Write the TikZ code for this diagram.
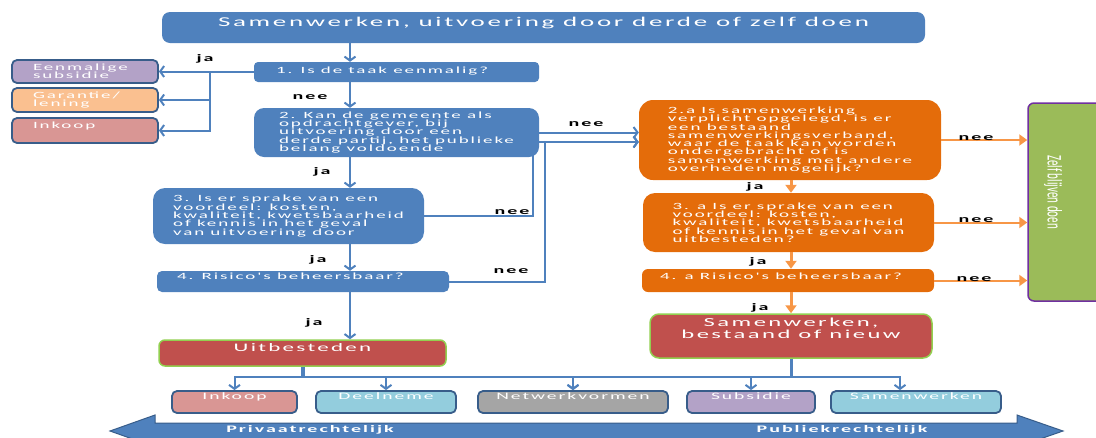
\documentclass[tikz,border=0pt]{standalone}
\usepackage{fontspec}
\usepackage{graphicx}
\setmainfont{Carlito}
\newfontfamily\slidefont[LetterSpace=10]{Carlito}
\newfontfamily\uprightfont{Carlito}
\usetikzlibrary{arrows.meta}

\definecolor{ublue}{HTML}{4F81BD}
\definecolor{udarkblue}{HTML}{385D8A}
\definecolor{uorange}{HTML}{E46C0A}
\definecolor{ulightorange}{HTML}{F79646}
\definecolor{ured}{HTML}{C0504D}
\definecolor{ugreen}{HTML}{9BBB59}
\definecolor{ulimegreen}{HTML}{92D050}
\definecolor{upurple}{HTML}{7030A0}
\definecolor{ulilac}{HTML}{B3A2C7}
\definecolor{upeach}{HTML}{FAC090}
\definecolor{upink}{HTML}{D99694}
\definecolor{ucyan}{HTML}{93CDDD}
\definecolor{ugray}{HTML}{A5A5A5}

% the slide text is stretched sideways
\newcommand{\wtext}[1]{\scalebox{2}[1]{#1}}
\newcommand{\wleft}[2]{\makebox[#1][l]{\wtext{#2}}}

\newcommand{\diagboxfont}{\slidefont\fontsize{9.5}{8.3}\selectfont\lineskiplimit=-20pt}
\newcommand{\diagoptfont}{\slidefont\fontsize{9.8}{10}\selectfont}
\newcommand{\diaglabelfont}{\slidefont\bfseries\fontsize{10}{10}\selectfont}
\newcommand{\diagtitlefont}{\slidefont\fontsize{13.5}{15}\selectfont}
\newcommand{\diagbigfont}{\slidefont\fontsize{11.5}{10}\selectfont\lineskiplimit=-20pt}
\newcommand{\diagswfont}{\slidefont\fontsize{12.3}{11.5}\selectfont\lineskiplimit=-20pt}

\begin{document}
\begin{tikzpicture}[x=1pt, y=-1pt,
    every node/.style={inner sep=0pt, text=white},
    bluebox/.style={fill=ublue, rounded corners=#1, font=\diagboxfont, align=left},
    bluebox/.default=8pt,
    orangebox/.style={fill=uorange, rounded corners=#1, font=\diagboxfont, align=left},
    orangebox/.default=8pt,
    endbox/.style={fill=ured, draw=ulimegreen, line width=1.5pt, rounded corners=#1, align=center},
    choice/.style={fill=#1, draw=udarkblue, line width=1.8pt, rounded corners=5pt, font=\diagboxfont},
    lift/.style={text height=7pt, text depth=#1},
    yesno/.style={text=black, font=\diaglabelfont},
    link/.style={draw=ublue, line width=2pt, -{Straight Barb[length=4pt, width=11pt]}},
    olink/.style={draw=ulightorange, line width=#1, -{Triangle[length=8pt, width=11pt]}},
    olink/.default=2.5pt]

    \useasboundingbox (0,0) rectangle (1096,437);
    \clip (0,0) rectangle (1096,437);

    % Bottom arrow: private to public law
    \filldraw[fill=ublue, draw=udarkblue, line width=1pt] (110,431) -- (155,415) -- (155,423) -- (1017,423) -- (1017,415)
        -- (1063,431) -- (1017,447) -- (1017,439) -- (155,439) -- (155,447) -- cycle;
    \node[font=\diaglabelfont] (priv) at (310,430) {\wtext{Privaatrechtelijk}};
    \node[font=\diaglabelfont] (publ) at (842,430) {\wtext{Publiekrechtelijk}};

    % Title
    \node[bluebox, font=\diagtitlefont, minimum width=763pt, minimum height=31pt,
        text height=10pt, text depth=11.7pt] (title) at (543.5,27.5) {\wtext{Samenwerken, uitvoering door derde of zelf doen}};

    % Blue questions
    \node[bluebox=4pt, minimum width=285pt, minimum height=20pt, inner xsep=22pt, lift=5pt] (q1) at (396.5,72)
        {\wleft{241pt}{1. Is de taak eenmalig?}};
    \node[bluebox=10pt, minimum width=285pt, minimum height=49pt] (q2) at (396.5,132.5)
        {\wtext{2. Kan de gemeente als}\\\wtext{opdrachtgever, bij}\\\wtext{uitvoering door een}\\\wtext{derde partij, het publieke}\\\wtext{belang voldoende}};
    \node[bluebox=12pt, minimum width=271pt, minimum height=56pt] (q3) at (288.5,216)
        {\wtext{3. Is er sprake van een}\\\wtext{voordeel: kosten,}\\\wtext{kwaliteit, kwetsbaarheid}\\\wtext{of kennis in het geval}\\\wtext{van uitvoering door}};
    \node[bluebox=5pt, minimum width=292pt, minimum height=21pt, inner xsep=20pt, lift=10.6pt] (q4) at (303,281.5)
        {\wleft{252pt}{4. Risico's beheersbaar?}};

    % Orange questions
    \node[orangebox=14pt, minimum width=302pt, minimum height=80pt] (q2a) at (790,140)
        {\wtext{2.a Is samenwerking}\\\wtext{verplicht opgelegd, is er}\\\wtext{een bestaand}\\\wtext{samenwerkingsverband,}\\\wtext{waar de taak kan worden}\\\wtext{ondergebracht of is}\\\wtext{samenwerking met andere}\\\wtext{overheden mogelijk?}};
    \node[orangebox=12pt, minimum width=291pt, minimum height=59pt] (q3a) at (788.5,222.5)
        {\wtext{3. a Is er sprake van een}\\\wtext{voordeel: kosten,}\\\wtext{kwaliteit, kwetsbaarheid}\\\wtext{of kennis in het geval van}\\\wtext{uitbesteden?}};
    \node[orangebox=6pt, minimum width=292pt, minimum height=23pt, inner xsep=18pt, lift=8.6pt] (q4a) at (788,280.5)
        {\wleft{256pt}{4. a Risico's beheersbaar?}};

    % Outcomes
    \node[endbox=6pt, font=\diagbigfont, minimum width=287pt, minimum height=26pt, text height=9pt, text depth=11.4pt] (uit) at (302.5,353) {\wtext{Uitbesteden}};
    \node[endbox=9pt, font=\diagswfont, minimum width=282pt, minimum height=44pt] (sw) at (791,336)
        {\wtext{Samenwerken,}\\\wtext{bestaand of nieuw}\\[4pt]\mbox{}};
    \node[fill=ugreen, draw=upurple, line width=1.5pt, rounded corners=6pt, minimum width=82pt, minimum height=198pt] (zelf) at (1069,202) {};
    \node[rotate=-90, font=\uprightfont\fontsize{11}{11}\selectfont] (zelftext) at (1053,192) {\scalebox{1}[1.9]{Zelf blijven doen}};

    % Left column
    \node[choice=ulilac, minimum width=146pt, minimum height=23pt, inner xsep=21pt, align=left] (sub) at (85,71.5)
        {\wleft{104pt}{Eenmalige}\\\wleft{104pt}{subsidie}};
    \node[choice=upeach, minimum width=146pt, minimum height=24pt, inner xsep=21pt, align=left] (gar) at (85,100)
        {\wleft{104pt}{Garantie/}\\\wleft{104pt}{lening}};
    \node[choice=upink, minimum width=146pt, minimum height=25pt, inner xsep=21pt, lift=11.6pt] (inkl) at (85,130.5)
        {\wleft{104pt}{Inkoop}};

    % Bottom row
    \node[choice=upink, font=\diagoptfont, minimum width=125pt, minimum height=22pt, lift=12.6pt] (ink) at (234.5,402) {\wtext{Inkoop}};
    \node[choice=ucyan, font=\diagoptfont, minimum width=140pt, minimum height=22pt, lift=12.6pt] (deel) at (386,402) {\wtext{Deelneme}};
    \node[choice=ugray, font=\diagoptfont, minimum width=190pt, minimum height=22pt, lift=12.6pt] (netw) at (573,402) {\wtext{Netwerkvormen}};
    \node[choice=ulilac, font=\diagoptfont, minimum width=128pt, minimum height=22pt, lift=12.6pt] (subs) at (751,402) {\wtext{Subsidie}};
    \node[choice=ucyan, font=\diagoptfont, minimum width=170pt, minimum height=22pt, lift=12.6pt] (samen) at (916,402) {\wtext{Samenwerken}};

    % Helper coordinates
    \coordinate (spine) at (350,0);
    \coordinate (ospine) at (791,0);
    \coordinate (lbus) at (210,0);
    \coordinate (bus) at (0,377);
    \coordinate (n3) at (533,142);
    \coordinate (n4) at (545,142);

    % Blue main line
    \draw[link] (title.south -| spine) -- (q1.north -| spine);
    \draw[link] (q1.south -| spine) -- (q2.north -| spine);
    \draw[link] (q2.south -| spine) -- (q3.north -| spine);
    \draw[link] (q3.south -| spine) -- (q4.north -| spine);
    \draw[link] (q4.south -| spine) -- (uit.north -| spine);

    % ja: one-off task
    \draw[link] (q1.west) -- (lbus |- q1.west) |- (sub.east);
    \draw[link] (q1.west) -- (lbus |- q1.west) |- (gar.east);
    \draw[link] (q1.west) -- (lbus |- q1.west) |- (inkl.east);

    % nee: over to cooperation
    \draw[link] (q2.east) -- (q2.east -| q2a.west);
    \draw[link] (q3.east) -| (n3) -- (n3 -| q2a.west);
    \draw[link] (q4.east) -| (n4) -- (n4 -| q2a.west);

    % Orange line
    \draw[olink=3pt] (q2a.south -| ospine) -- (q3a.north -| ospine);
    \draw[olink=3pt] (q3a.south -| ospine) -- (q4a.north -| ospine);
    \draw[olink=3pt] (q4a.south -| ospine) -- (sw.north -| ospine);
    \draw[olink=2pt] (q2a.east) -- (q2a.east -| zelf.west);
    \draw[olink=2pt] (q3a.east) -- (q3a.east -| zelf.west);
    \draw[olink=2pt] (q4a.east) -- (q4a.east -| zelf.west);

    % Bottom distribution
    \draw[ublue, line width=4pt] (uit.south) -- (uit.south |- bus);
    \draw[ublue, line width=3pt] (sw.south) -- (sw.south |- bus);
    \draw[link] (uit.south |- bus) -| (ink.north);
    \draw[link] (uit.south |- bus) -| (deel.north);
    \draw[link] (uit.south |- bus) -| (netw.north);
    \draw[link] (sw.south |- bus) -| (netw.north);
    \draw[link] (sw.south |- bus) -| (subs.north);
    \draw[link] (sw.south |- bus) -| ([xshift=-16pt]samen.north);

    % ja / nee labels
    \node[yesno] (ja1) at (205,59) {\wtext{ja}};
    \node[yesno] (nee1) at (310,97) {\wtext{nee}};
    \node[yesno] (ja2) at (322,172) {\wtext{ja}};
    \node[yesno] (ja3) at (318,260) {\wtext{ja}};
    \node[yesno] (ja4) at (314,323) {\wtext{ja}};
    \node[yesno] (nee2) at (586,124) {\wtext{nee}};
    \node[yesno] (nee3) at (512,212) {\wtext{nee}};
    \node[yesno] (nee4) at (511,271) {\wtext{nee}};
    \node[yesno] (ja5) at (755,187) {\wtext{ja}};
    \node[yesno] (ja6) at (758,262) {\wtext{ja}};
    \node[yesno] (ja7) at (760,308) {\wtext{ja}};
    \node[yesno] (nee5) at (976,138) {\wtext{nee}};
    \node[yesno] (nee6) at (976,220) {\wtext{nee}};
    \node[yesno] (nee7) at (974,279) {\wtext{nee}};
\end{tikzpicture}
\end{document}
